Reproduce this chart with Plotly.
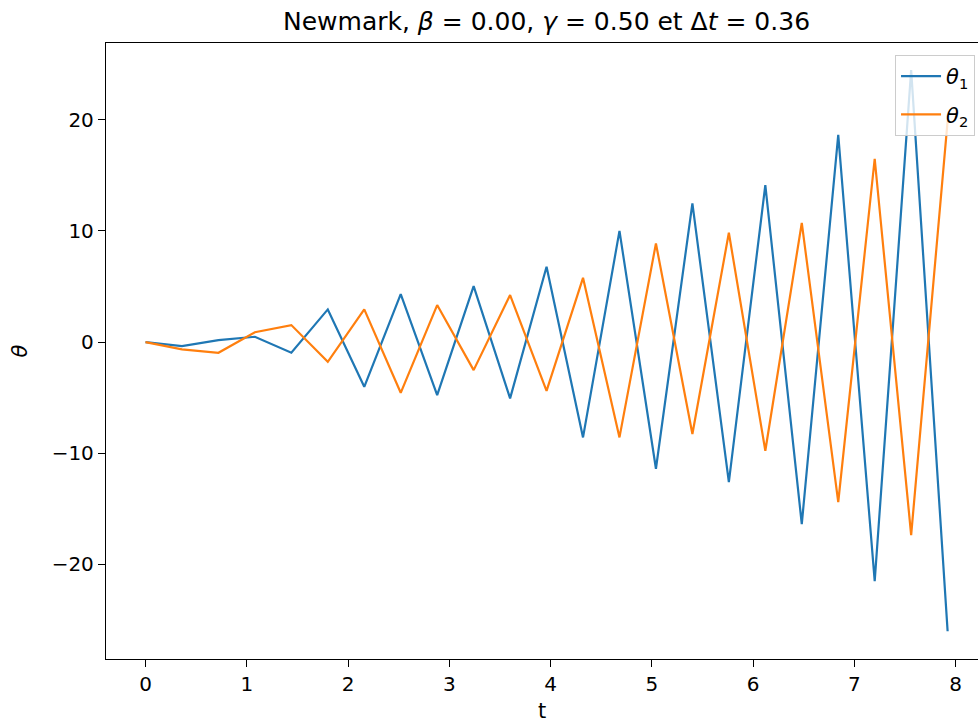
import plotly.graph_objects as go

dt = 0.36
t = [round(k * dt, 2) for k in range(23)]
theta1 = [0.0, -0.36, 0.18, 0.48, -0.96, 2.94, -4.02, 4.32, -4.77, 5.04, -5.06, 6.77,
          -8.57, 10.0, -11.39, 12.47, -12.59, 14.12, -16.37, 18.64, -21.5, 24.46, -26.0]
theta2 = [0.0, -0.66, -0.96, 0.89, 1.53, -1.77, 2.94, -4.56, 3.33, -2.52, 4.23, -4.38,
          5.78, -8.57, 8.87, -8.27, 9.83, -9.77, 10.73, -14.39, 16.49, -17.36, 19.9]

x_range = [-0.39, 8.22]
y_range = [-28.5, 26.9]
x_ticks = [0, 1, 2, 3, 4, 5, 6, 7, 8]
y_ticks = [-20, -10, 0, 10, 20]

FONT = "DejaVu Sans"

fig = go.Figure()
fig.add_trace(go.Scatter(x=t, y=theta1, mode="lines", name="<i>θ</i><sub>1</sub>",
                         legendgroup="a", line=dict(color="#1f77b4", width=2.2)))
fig.add_trace(go.Scatter(x=t, y=theta2, mode="lines", name="<i>θ</i><sub>2</sub>",
                         legendgroup="b", line=dict(color="#ff7f0e", width=2.2)))

fig.update_layout(
    width=978, height=727,
    margin=dict(l=106, r=0, t=43, b=68),
    paper_bgcolor="white", plot_bgcolor="white",
    font=dict(family=FONT, size=20, color="black"),
    showlegend=True,
    legend=dict(x=0.9966, y=0.9805, xanchor="right", yanchor="top",
                bgcolor="rgba(255,255,255,0.8)", bordercolor="#cccccc", borderwidth=1,
                font=dict(family=FONT, size=21), itemwidth=40, tracegroupgap=8),
    annotations=[dict(text="Newmark, <i>β</i> = 0.00, <i>γ</i> = 0.50 et Δ<i>t</i> = 0.36",
                      xref="paper", yref="paper", x=0.5046, y=1, yshift=5,
                      xanchor="center", yanchor="bottom", showarrow=False,
                      font=dict(family=FONT, size=25, color="black"))],
)
fig.update_xaxes(range=x_range, tickvals=x_ticks, showgrid=False, zeroline=False,
                 showline=True, linecolor="black", linewidth=1.3, mirror=True,
                 ticks="outside", ticklen=7, tickcolor="black", tickwidth=1.2,
                 title=dict(text="t", font=dict(size=21), standoff=8))
fig.update_yaxes(range=y_range, tickvals=y_ticks, showgrid=False, zeroline=False,
                 showline=True, linecolor="black", linewidth=1.3,
                 ticks="outside", ticklen=7, tickcolor="black", tickwidth=1.2,
                 title=dict(text="<i>θ</i>", font=dict(size=21), standoff=18))

fig.write_html("out.html")
